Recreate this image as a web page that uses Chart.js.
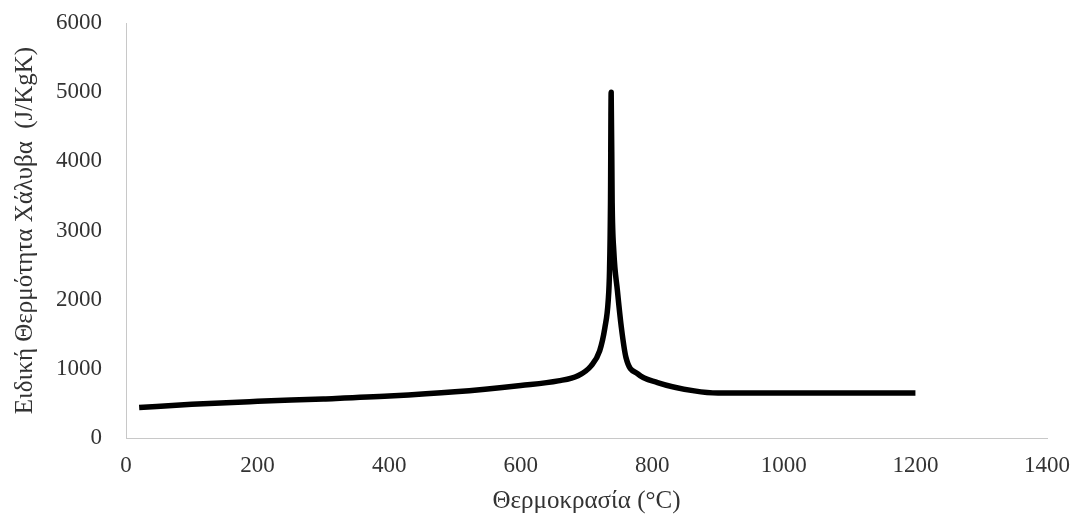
<!DOCTYPE html>
<html>
<head>
<meta charset="utf-8">
<script src="https://cdn.jsdelivr.net/npm/chart.js@4"></script>
<style>
  html, body { margin: 0; padding: 0; background: #fff; }
  .wrap { width: 1078px; height: 516px; }
</style>
</head>
<body>
<div class="wrap"><canvas id="chartHeat"></canvas></div>
<script>
// temperature (°C) and specific heat of steel (J/KgK)
const temps = [20, 100, 200, 300, 400, 500, 600, 657, 687, 707, 720, 728, 733, 735, 736.5, 737.5,
  739, 741.5, 747, 753, 760, 778, 808, 864, 900, 1000, 1100, 1200];
const heat = [440, 488, 530, 565, 606, 667, 760, 826, 899, 1043, 1261, 1598, 1985, 2420, 3400, 5000,
  3400, 2700, 2130, 1598, 1164, 927, 802, 681, 650, 650, 650, 650];
const xTicks = [0, 200, 400, 600, 800, 1000, 1200, 1400];
const yTicks = [0, 1000, 2000, 3000, 4000, 5000, 6000];

const points = temps.map((t, i) => ({ x: t, y: heat[i] }));

const fontFam = "'Liberation Serif', 'Times New Roman', serif";

const configHeat = {
  type: "scatter",
  data: {
    datasets: [
      {
        data: points,
        showLine: true,
        borderColor: "#000",
        borderWidth: 5.5,
        borderJoinStyle: "round",
        pointRadius: 0,
        cubicInterpolationMode: "monotone",
        fill: false,
      },
    ],
  },
  options: {
    responsive: true,
    maintainAspectRatio: false,
    animation: false,
    layout: { padding: { left: 10, right: 22, top: 23, bottom: 0 } },
    plugins: {
      legend: { display: false },
      tooltip: { enabled: false }
    },
    scales: {
      x: {
        type: "linear",
        min: 0,
        max: 1400,
        afterBuildTicks: (ax) => { ax.ticks = xTicks.map(v => ({ value: v })); },
        grid: { display: false },
        border: { display: true, color: "#c8c8c8", width: 1 },
        ticks: { color: "#333", font: { family: fontFam, size: 23, lineHeight: 1.0 }, padding: 8,
          callback: (v) => String(v) },
        title: { display: true, text: "Θερμοκρασία (°C)", color: "#333",
          font: { family: fontFam, size: 25, lineHeight: 1.0 }, padding: { top: 4, bottom: 2 } }
      },
      y: {
        min: 0,
        max: 6000,
        afterBuildTicks: (ax) => { ax.ticks = yTicks.map(v => ({ value: v })); },
        afterFit: (ax) => { ax.paddingTop = 0; },
        grid: { display: false },
        border: { display: true, color: "#c8c8c8", width: 1 },
        ticks: { color: "#333", font: { family: fontFam, size: 23 }, padding: 16,
          callback: (v) => String(v) },
        title: { display: true, text: "Ειδική Θερμότητα Χάλυβα  (J/KgK)", color: "#333",
          font: { family: fontFam, size: 25 }, padding: { top: 0, bottom: 0 } }
      }
    }
  },
};

var chartHeat = new Chart(document.getElementById("chartHeat"), configHeat);
</script>
</body>
</html>
